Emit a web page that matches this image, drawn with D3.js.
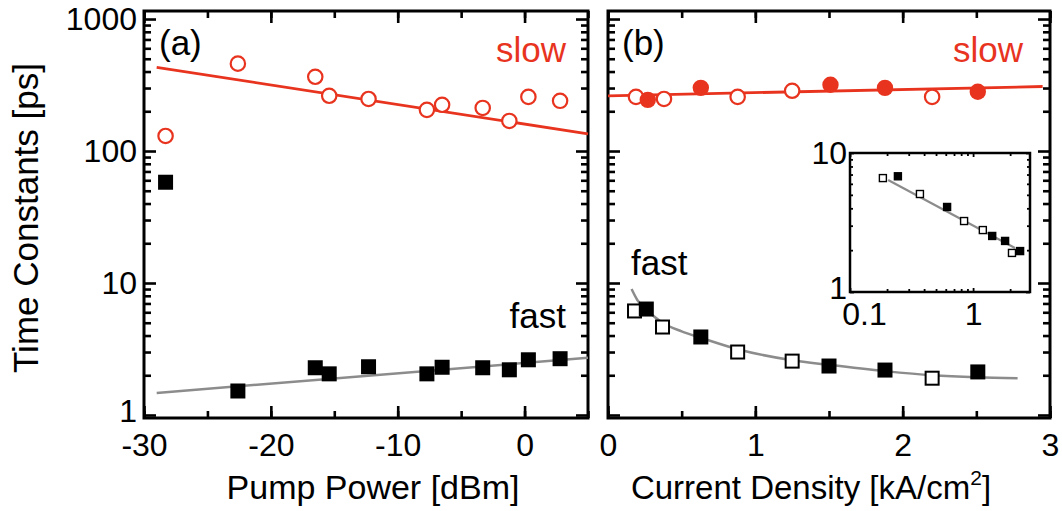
<!DOCTYPE html>
<html>
<head>
<meta charset="utf-8">
<script src="https://cdn.jsdelivr.net/npm/d3@7"></script>
<style>
  body { margin: 0; background: #fff; }
  svg { display: block; font-family: "Liberation Sans", Arial, sans-serif; }
</style>
</head>
<body>
<svg id="chart" width="1062" height="511"></svg>
<script>
// ---- data ----
// panel (a): time constants vs pump power
const pumpPower = [-28.3, -22.6, -16.5, -15.4, -12.3, -7.7, -6.5, -3.3, -1.2, 0.3, 2.8];
const slowA = [130, 459, 365, 262, 248, 205, 224, 212, 169, 257, 240];
const fastA = [58, 1.52, 2.28, 2.05, 2.32, 2.05, 2.3, 2.28, 2.2, 2.62, 2.67];
const slowFitA = [[-29, 430], [5, 135]];
const fastFitA = [[-29, 1.47], [5, 2.71]];

// panel (b): time constants vs current density
const currentSlow = [0.19, 0.27, 0.38, 0.63, 0.88, 1.25, 1.51, 1.88, 2.2, 2.51];
const slowB = [257, 244, 248, 301, 257, 286, 318, 301, 257, 281];
const currentFast = [0.18, 0.26, 0.37, 0.63, 0.88, 1.25, 1.5, 1.88, 2.2, 2.51];
const fastB = [6.14, 6.35, 4.64, 3.9, 3.0, 2.56, 2.35, 2.19, 1.9, 2.12];
const filledB = [false, true, false, true, false, false, true, true, false, true];
const slowFitB = [[0, 262], [2.95, 308]];
const fastFitB = [[0.16, 9.0], [0.2, 7.4], [0.26, 6.3], [0.37, 5.0], [0.5, 4.3], [0.63, 3.85],
                  [0.88, 3.15], [1.25, 2.6], [1.5, 2.4], [1.88, 2.15], [2.2, 2.0], [2.5, 1.93], [2.78, 1.9]];

// inset: fast time constant, log-log
const insetJ = [0.185, 0.245, 0.37, 0.615, 0.845, 1.2, 1.43, 1.82, 2.07, 2.41];
const insetTau = [6.6, 6.8, 5.07, 4.09, 3.24, 2.79, 2.53, 2.33, 1.91, 1.97];
const insetFit = [[0.204, 6.4], [2.19, 2.07]];

// tick labels
const yMajor = [1, 10, 100, 1000];
const xTicksA = [-30, -20, -10, 0];
const xTicksB = [0, 1, 2, 3];
const insetXTicks = [0.1, 1];
const insetYTicks = [1, 10];

const red = "#e8341f";
const grey = "#8c8c8c";

const svg = d3.select("#chart");

const y = d3.scaleLog().domain([0.949, 1150]).range([418, 11]);
const xA = d3.scaleLinear().domain([-30, 5]).range([144, 588]);
const xB = d3.scaleLinear().domain([0, 3]).range([608, 1050]);

const yMinor = [];
[1, 10, 100].forEach(d => d3.range(2, 10).forEach(m => yMinor.push(d * m)));

function styleAxis(g, fs) {
    g.select(".domain").remove();
    g.selectAll("line").attr("stroke", "#000").attr("stroke-width", 2.6);
    g.selectAll("text").attr("fill", "#000");
    g.attr("font-size", fs).attr("font-family", null);
}

function frame(x, y, xMajor, xAll, labelX, labelY, opt) {
    const [x0, x1] = x.range();
    const [y0, y1] = y.range();
    const g = svg.append("g");
    const big = opt.big, small = opt.small, fs = opt.fs;

    // bottom
    g.append("g").attr("transform", `translate(0,${y0})`)
        .call(d3.axisBottom(x).tickValues(xAll).tickSize(-small).tickFormat(""))
        .call(styleAxis, fs);
    g.append("g").attr("transform", `translate(0,${y0})`)
        .call(d3.axisBottom(x).tickValues(xMajor).tickSize(-big).tickPadding(opt.xPad)
            .tickFormat(labelX ? (d => String(d)) : ""))
        .call(styleAxis, fs);
    // top
    g.append("g").attr("transform", `translate(0,${y1})`)
        .call(d3.axisTop(x).tickValues(xAll).tickSize(-small).tickFormat(""))
        .call(styleAxis, fs);
    g.append("g").attr("transform", `translate(0,${y1})`)
        .call(d3.axisTop(x).tickValues(xMajor).tickSize(-big).tickFormat(""))
        .call(styleAxis, fs);
    // left
    g.append("g").attr("transform", `translate(${x0},0)`)
        .call(d3.axisLeft(y).tickValues(opt.yMinor).tickSize(-small).tickFormat(""))
        .call(styleAxis, fs);
    g.append("g").attr("class", "yleft").attr("transform", `translate(${x0},0)`)
        .call(d3.axisLeft(y).tickValues(opt.yMajor).tickSize(-big).tickPadding(opt.yPad)
            .tickFormat(labelY ? (d => String(d)) : ""))
        .call(styleAxis, fs);
    // right
    g.append("g").attr("transform", `translate(${x1},0)`)
        .call(d3.axisRight(y).tickValues(opt.yMinor).tickSize(-small).tickFormat(""))
        .call(styleAxis, fs);
    g.append("g").attr("transform", `translate(${x1},0)`)
        .call(d3.axisRight(y).tickValues(opt.yMajor).tickSize(-big).tickFormat(""))
        .call(styleAxis, fs);

    g.append("rect")
        .attr("x", x0).attr("y", y1)
        .attr("width", x1 - x0).attr("height", y0 - y1)
        .attr("fill", "none").attr("stroke", "#000").attr("stroke-width", opt.frameW);
    return g;
}

const mainOpt = { big: 12, small: 7, fs: 32, xPad: 15, yPad: 7, yMajor: yMajor, yMinor: yMinor, frameW: 3 };
const gFA = frame(xA, y, xTicksA, d3.range(-30, 6, 5), true, true, mainOpt);
frame(xB, y, xTicksB, d3.range(0, 3.01, 0.5), true, false, mainOpt);
// the "1" label sits a little high, clear of "-30"
gFA.selectAll(".yleft text").filter(d => d === 1).attr("dy", "0.2em");

const line = (x, yy) => d3.line().x(d => x(d[0])).y(d => yy(d[1]));

// ---- panel (a) ----
const gA = svg.append("g");
gA.append("path").datum(slowFitA).attr("d", line(xA, y))
    .attr("fill", "none").attr("stroke", red).attr("stroke-width", 2.8);
gA.append("path").datum(fastFitA).attr("d", line(xA, y))
    .attr("fill", "none").attr("stroke", grey).attr("stroke-width", 2.5);
gA.selectAll(".slow").data(pumpPower).join("circle")
    .attr("cx", d => xA(d)).attr("cy", (d, i) => y(slowA[i])).attr("r", 7.2)
    .attr("fill", "#fff").attr("stroke", red).attr("stroke-width", 2.2);
gA.selectAll(".fast").data(pumpPower).join("rect")
    .attr("x", d => xA(d) - 7.5).attr("y", (d, i) => y(fastA[i]) - 7.5)
    .attr("width", 15).attr("height", 15).attr("fill", "#000");

// ---- panel (b) ----
const gB = svg.append("g");
gB.append("path").datum(slowFitB).attr("d", line(xB, y))
    .attr("fill", "none").attr("stroke", red).attr("stroke-width", 2.8);
gB.append("path").datum(fastFitB).attr("d", line(xB, y).curve(d3.curveMonotoneX))
    .attr("fill", "none").attr("stroke", grey).attr("stroke-width", 2.5);
gB.selectAll(".slowB").data(currentSlow).join("circle")
    .attr("cx", d => xB(d)).attr("cy", (d, i) => y(slowB[i]))
    .attr("r", (d, i) => filledB[i] ? 8.2 : 7.2)
    .attr("fill", (d, i) => filledB[i] ? red : "#fff")
    .attr("stroke", red).attr("stroke-width", (d, i) => filledB[i] ? 0 : 2.2);
gB.selectAll(".fastB").data(currentFast).join("rect")
    .attr("x", (d, i) => xB(d) - (filledB[i] ? 7.5 : 6.5))
    .attr("y", (d, i) => y(fastB[i]) - (filledB[i] ? 7.5 : 6.5))
    .attr("width", (d, i) => filledB[i] ? 15 : 13)
    .attr("height", (d, i) => filledB[i] ? 15 : 13)
    .attr("fill", (d, i) => filledB[i] ? "#000" : "#fff")
    .attr("stroke", "#000").attr("stroke-width", (d, i) => filledB[i] ? 0 : 2);

// ---- inset ----
const xI = d3.scaleLog().domain([0.1, 2.9]).range([850, 1030]);
const yI = d3.scaleLog().domain([1, 10]).range([292, 153]);
svg.append("rect").attr("x", 850).attr("y", 153).attr("width", 180).attr("height", 139).attr("fill", "#fff");
const insetOpt = {
    big: 4, small: 3, fs: 32, xPad: 10, yPad: 3, yMajor: insetYTicks,
    yMinor: d3.range(2, 10), frameW: 2.5
};
const gI = frame(xI, yI, insetXTicks, [0.2, 0.3, 0.4, 0.5, 0.6, 0.7, 0.8, 0.9, 2], true, true, insetOpt);
gI.selectAll("line").attr("stroke-width", 1.8);
// nudge the 0.1 label off the corner as in the figure
gI.selectAll("text").filter(d => d === 0.1).attr("dx", 14);
gI.selectAll(".yleft text").filter(d => d === 1).attr("dy", "0.2em");

const gIn = svg.append("g");
gIn.append("path").datum(insetFit).attr("d", line(xI, yI))
    .attr("fill", "none").attr("stroke", grey).attr("stroke-width", 2.2);
gIn.selectAll("rect").data(insetJ).join("rect")
    .attr("x", d => xI(d) - 3.5).attr("y", (d, i) => yI(insetTau[i]) - 3.5)
    .attr("width", 7).attr("height", 7)
    .attr("fill", (d, i) => filledB[i] ? "#000" : "#fff")
    .attr("stroke", "#000").attr("stroke-width", 1.4);

// ---- texts ----
const txt = (x, yy, s, opts = {}) => svg.append("text")
    .attr("x", x).attr("y", yy).text(s)
    .attr("font-size", opts.fs || 35)
    .attr("fill", opts.fill || "#000")
    .attr("text-anchor", opts.anchor || "start");

txt(159, 55, "(a)");
txt(622, 55, "(b)");
txt(566, 62, "slow", { anchor: "end", fill: red });
txt(1023, 62, "slow", { anchor: "end", fill: red });
txt(566, 328, "fast", { anchor: "end" });
txt(631, 275, "fast");

txt(373, 499, "Pump Power [dBm]", { anchor: "middle", fs: 34 });

const tB = txt(811, 499, "Current Density [kA/cm", { anchor: "middle", fs: 33 });
tB.append("tspan").attr("font-size", 21).attr("dy", -14).text("2");
tB.append("tspan").attr("dy", 14).text("]");

svg.append("text")
    .attr("transform", "translate(38,218) rotate(-90)")
    .attr("text-anchor", "middle")
    .attr("font-size", 35)
    .text("Time Constants [ps]");
</script>
</body>
</html>
